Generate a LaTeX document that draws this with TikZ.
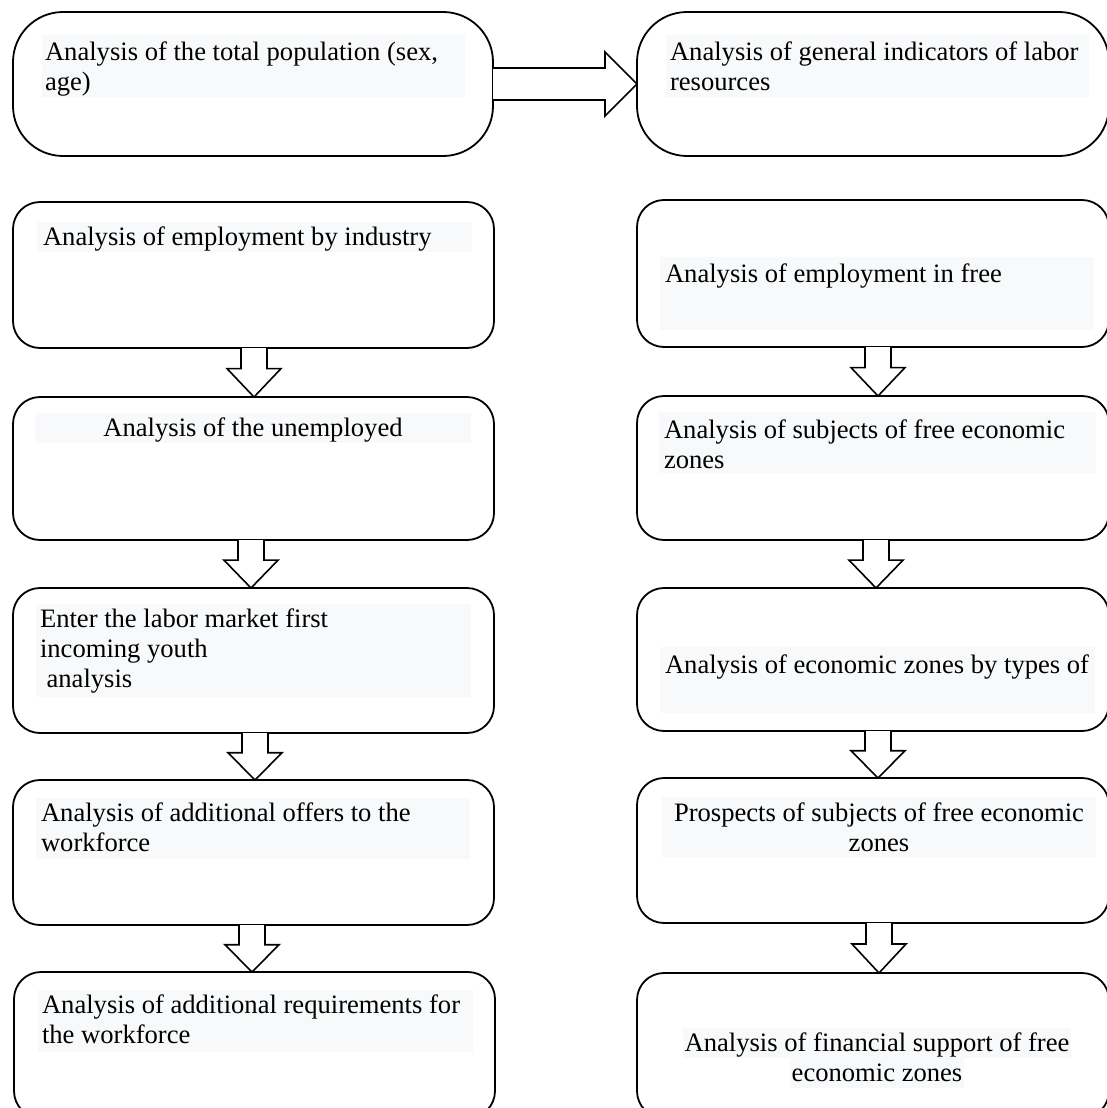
\documentclass[tikz,border=0pt]{standalone}
\usepackage{fontspec}
\setmainfont{Liberation Serif}
\usetikzlibrary{calc}
\definecolor{hl}{HTML}{F8F9FA}
\newcommand{\mystrut}{\rule[-7pt]{0pt}{30pt}}
\newcommand{\mkbox}[6]{\node[#6, minimum width={(#4-#2)*1pt}, minimum height={(#5-#3)*1pt}] (#1) at ({(#2+#4)/2},{-(#3+#5)/2}) {};}
\newcommand{\varr}[3]{\draw[arr] let \p1=(#1.south), \p2=(#2.north), \n1={\y1-\y2} in
  ({#3-13},\y1) -- ({#3-13},{\y1-0.42*\n1}) -- ({#3-27},{\y1-0.42*\n1}) -- (#3,\y2) --
  ({#3+27},{\y1-0.42*\n1}) -- ({#3+13},{\y1-0.42*\n1}) -- ({#3+13},\y1);}
\tikzset{
  box/.style={draw=black, line width=1.8pt, rounded corners=27pt, inner sep=0pt, outer sep=0pt},
  topbox/.style={box, rounded corners=50pt},
  arr/.style={draw=black, line width=1.6pt, fill=white, line join=miter},
  txt/.style={font=\fontsize{26.6}{30}\selectfont, inner sep=0pt, outer sep=0pt, anchor=north west, align=flush left, text width=470pt},
  ctxt/.style={txt, anchor=north, align=flush center},
  lntxt/.style={font=\fontsize{26.6}{30}\selectfont, fill=hl, inner xsep=2pt, inner ysep=0pt, anchor=base},
}
\begin{document}
\begin{tikzpicture}[x=1pt,y=1pt]
\useasboundingbox (0,0) rectangle (1107,-1108);
\clip (0,0) rectangle (1107,-1108);
\fill[white] (0,0) rectangle (1107,-1108);

% paragraph shading
\fill[hl] (42,-35) rectangle (465,-97);
\fill[hl] (666,-35) rectangle (1089,-97);
\fill[hl] (37,-222) rectangle (472,-252);
\fill[hl] (35,-413) rectangle (471,-443);
\fill[hl] (660,-257) rectangle (1094,-330);
\fill[hl] (659,-412) rectangle (1096,-473);
\fill[hl] (660,-647) rectangle (1095,-713);
\fill[hl] (36,-604) rectangle (471,-697);
\fill[hl] (36,-798) rectangle (470,-859);
\fill[hl] (38,-990) rectangle (473,-1052);
\fill[hl] (662,-797) rectangle (1096,-857);

% boxes
\mkbox{L1}{13}{12}{493}{156}{topbox}
\mkbox{R1}{637}{12}{1109}{156}{topbox}
\mkbox{L3}{13}{202}{494}{348}{box}
\mkbox{R2}{637}{200}{1109}{347}{box}
\mkbox{L4}{13}{397}{494}{540}{box}
\mkbox{R3}{637}{396}{1109}{540}{box}
\mkbox{L5}{13}{588}{494}{733}{box}
\mkbox{R4}{637}{588}{1109}{731}{box}
\mkbox{L6}{13}{780}{494}{925}{box}
\mkbox{R5}{637}{778}{1109}{923}{box}
\mkbox{L7}{14}{972}{495}{1118}{box}
\mkbox{R6}{637}{973}{1109}{1118}{box}

% horizontal arrow
\draw[arr] let \p1=(L1.east), \p2=(R1.west) in
  (\x1,{\y1+16pt}) -- ({\x2-32pt},{\y1+16pt}) -- ({\x2-32pt},{\y1+32pt}) -- (\x2,\y1) --
  ({\x2-32pt},{\y1-32pt}) -- ({\x2-32pt},{\y1-16pt}) -- (\x1,{\y1-16pt});

% vertical arrows
\varr{L3}{L4}{254}
\varr{L4}{L5}{251}
\varr{L5}{L6}{255}
\varr{L6}{L7}{252}
\varr{R2}{R3}{878}
\varr{R3}{R4}{876}
\varr{R4}{R5}{878}
\varr{R5}{R6}{879}

% texts
\node[txt] (tL1) at (45,-37) {\mystrut Analysis of the total population (sex,\\\mystrut age)};
\node[txt] (tR1) at (670,-37) {\mystrut Analysis of general indicators of labor\\\mystrut resources};
\node[txt] (tL3) at (43,-222) {\mystrut Analysis of employment by industry};
\node[ctxt] (tL4) at (253,-413) {\mystrut Analysis of the unemployed};
\node[txt] (tR2) at (665,-259) {\mystrut Analysis of employment in free};
\node[txt] (tR3) at (664,-415) {\mystrut Analysis of subjects of free economic\\\mystrut zones};
\node[txt] (tR4) at (665,-650) {\mystrut Analysis of economic zones by types of};
\node[txt] (tL5) at (40,-604) {\mystrut Enter the labor market first\\\mystrut incoming youth\\\mystrut\hspace*{6.6pt}analysis};
\node[txt] (tL6) at (41,-798) {\mystrut Analysis of additional offers to the\\\mystrut workforce};
\node[txt] (tL7) at (42,-990) {\mystrut Analysis of additional requirements for\\\mystrut the workforce};
\node[ctxt] (tR5) at (879,-798) {\mystrut Prospects of subjects of free economic\\\mystrut zones};
\node[lntxt] (tR6a) at (877,-1051) {\mystrut Analysis of financial support of free};
\node[lntxt] (tR6b) at (877,-1081) {\mystrut economic zones};
\end{tikzpicture}
\end{document}
